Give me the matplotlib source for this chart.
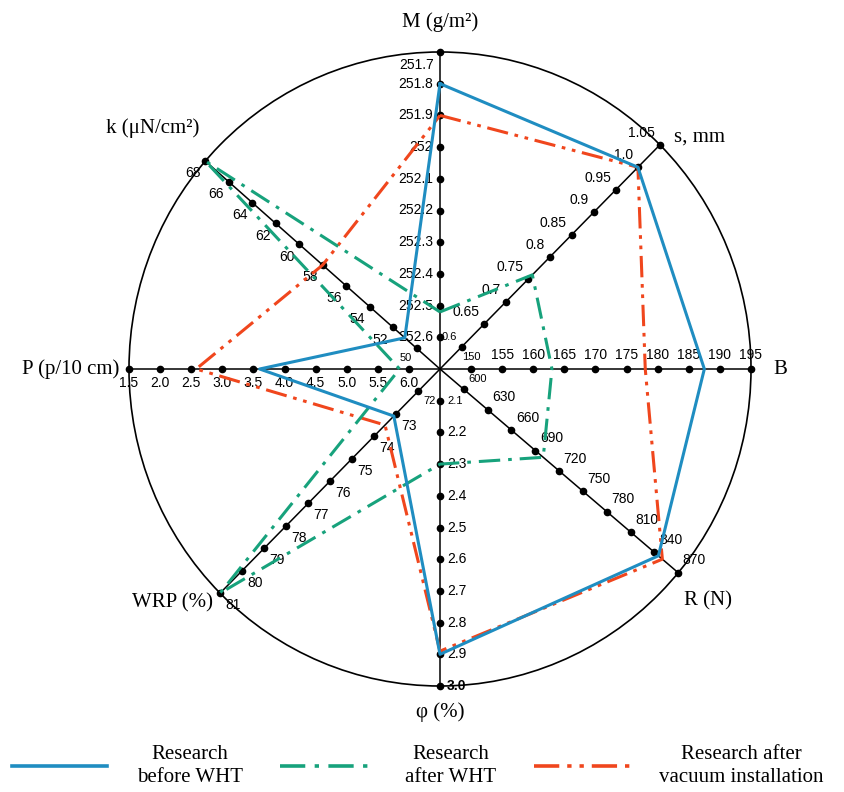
import numpy as np
import matplotlib.pyplot as plt
from matplotlib.lines import Line2D
from matplotlib.patches import Ellipse

# axes of the diagram: title, direction (deg), value at the centre, value on the rim
axis_names = ['M (g/m²)', 's, mm', 'B', 'R (N)', 'φ (%)', 'WRP (%)', 'P (p/10 cm)', 'k (μN/cm²)']
axis_angles = [90, 45, 0, -40, -90, -135, 180, 139]
axis_centre = [252.7, 0.55, 145, 570, 2.0, 71, 6.5, 48]
axis_rim = [251.7, 1.05, 195, 870, 3.0, 81, 1.5, 68]

# tick labels along each axis
ticks_M = ['251.7', '251.8', '251.9', '252', '252.1', '252.2', '252.3', '252.4', '252.5', '252.6']
ticks_s = ['0.6', '0.65', '0.7', '0.75', '0.8', '0.85', '0.9', '0.95', '1.0', '1.05']
ticks_B = ['150', '155', '160', '165', '170', '175', '180', '185', '190', '195']
ticks_R = ['600', '630', '660', '690', '720', '750', '780', '810', '840', '870']
ticks_phi = ['2.1', '2.2', '2.3', '2.4', '2.5', '2.6', '2.7', '2.8', '2.9', '3.0']
ticks_WRP = ['72', '73', '74', '75', '76', '77', '78', '79', '80', '81']
ticks_P = ['1.5', '2.0', '2.5', '3.0', '3.5', '4.0', '4.5', '5.0', '5.5', '6.0']
ticks_k = ['50', '52', '54', '56', '58', '60', '62', '64', '66', '68']
all_ticks = [ticks_M, ticks_s, ticks_B, ticks_R, ticks_phi, ticks_WRP, ticks_P, ticks_k]

# measured values, same order as the axes
before_wht = [251.8, 1.0, 187.5, 845, 2.9, 73.1, 3.6, 51]
after_wht = [252.52, 0.76, 163, 700, 2.3, 81, 5.85, 68]
after_vacuum = [251.9, 1.0, 178, 850, 2.89, 73.5, 2.58, 58]

BLUE = '#1f8dc1'
GREEN = '#17a27c'
RED = '#f0461d'


def to_xy(i, v):
    r = (v - axis_centre[i]) / (axis_rim[i] - axis_centre[i])
    t = np.radians(axis_angles[i])
    return r * np.cos(t), r * np.sin(t)


def align(phi):
    c, s = np.cos(phi), np.sin(phi)
    ha = 'left' if c > 0.3 else ('right' if c < -0.3 else 'center')
    va = 'bottom' if s > 0.3 else ('top' if s < -0.3 else 'center')
    return ha, va


fig = plt.figure(figsize=(8.45, 7.92), dpi=100)
ax = fig.add_axes([0, 0, 1, 1])
ax.set_xlim(-440 / 311, 405 / 311)
ax.set_ylim(-423 / 317, 369 / 317)
ax.axis('off')

ax.add_patch(Ellipse((0, 0), 2, 2, fill=False, lw=1.2, color='black', zorder=1))

for i, ticks in enumerate(all_ticks):
    x1, y1 = to_xy(i, axis_rim[i])
    ax.plot([0, x1], [0, y1], color='black', lw=1.1, zorder=2)
    vals = [float(t) for t in ticks]
    pts = [to_xy(i, v) for v in vals]
    ax.plot([p[0] for p in pts], [p[1] for p in pts], 'o', color='black', ms=4.5, zorder=3)
    phi = np.radians(axis_angles[i] + 90)
    ha, va = align(phi)
    for j, (lab, p) in enumerate(zip(ticks, pts)):
        size = 8 if j == 0 and i not in (6, 0) else 10
        off = (7 * np.cos(phi), 7 * np.sin(phi))
        if i == 0 and j == 0:
            # rim label of M sits just under its dot
            off = (-6, -6)
        ax.annotate(lab, p, xytext=off, textcoords='offset pixels',
                    ha=ha, va='top' if (i == 0 and j == 0) else va, fontsize=size,
                    family='Liberation Sans', zorder=4,
                    fontweight='bold' if (i == 4 and j == 9) else 'normal')

# axis titles
title_offsets = [(0, 30), (14, 8), (22, 0), (6, -28), (0, -26), (-7, -10), (-10, 0), (-6, 33)]
title_align = ['center', 'left', 'left', 'left', 'center', 'right', 'right', 'right']
for i, name in enumerate(axis_names):
    ax.annotate(name, to_xy(i, axis_rim[i]), xytext=title_offsets[i],
                textcoords='offset pixels', ha=title_align[i], va='center',
                fontsize=15, family='Liberation Serif')

series = [
    (after_vacuum, RED, (7, 2.2, 1.2, 2.2, 1.2, 2.2)),
    (after_wht, GREEN, (7, 2.6, 1.2, 2.6)),
    (before_wht, BLUE, None),
]
for vals, col, dash in series:
    pts = [to_xy(i, v) for i, v in enumerate(vals)]
    pts.append(pts[0])
    line, = ax.plot([p[0] for p in pts], [p[1] for p in pts], color=col, lw=2.2, zorder=5)
    if dash:
        line.set_dashes(dash)

handles = [
    Line2D([], [], color=BLUE, lw=2.6),
    Line2D([], [], color=GREEN, lw=2.6, dashes=(7, 2.6, 1.2, 2.6)),
    Line2D([], [], color=RED, lw=2.6, dashes=(7, 2.2, 1.2, 2.2, 1.2, 2.2)),
]
labels = ['Research\nbefore WHT', 'Research\nafter WHT', 'Research after\nvacuum installation']
leg = fig.legend(handles, labels, loc='center', bbox_to_anchor=(0.494, 26 / 792), ncol=3,
                 frameon=False, prop={'family': 'Liberation Serif', 'size': 15},
                 handlelength=4.6, handletextpad=1.4, columnspacing=1.8)
for t in leg.get_texts():
    t.set_multialignment('center')
    t.set_linespacing(1.35)

fig.savefig('out.png', dpi=100)
